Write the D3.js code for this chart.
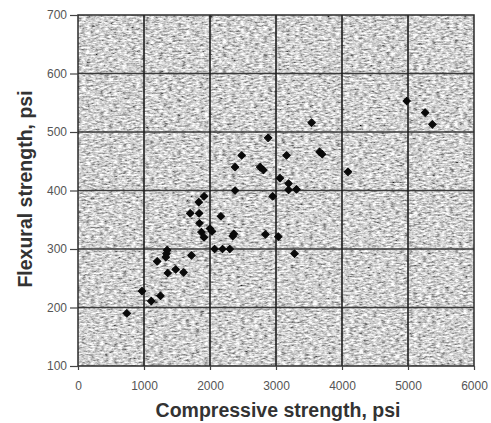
<!DOCTYPE html>
<html lang="en">
<head>
<meta charset="utf-8">
<title>Flexural vs compressive strength</title>
<script src="https://cdn.jsdelivr.net/npm/d3@7"></script>
<style>
  body { margin: 0; background: #fff; }
  svg { display: block; }
  .tick text { font-family: "Liberation Sans Narrow", "Liberation Sans", Arial, sans-serif; font-size: 12px; fill: #555; }
  .title { font-family: "Liberation Sans", Arial, sans-serif; font-weight: bold; font-size: 19.5px; fill: #333; }
</style>
</head>
<body>
<script>

// compressive strength (psi) of each specimen
var compressive = [740, 970, 1110, 1250, 1200, 1330, 1340, 1350, 1360, 1480,
                   1600, 1720, 1700, 1830, 1910, 1835, 1840, 1870, 1910, 2000,
                   2030, 2165, 2070, 2190, 2300, 2345, 2360, 2380, 2380, 2480,
                   2760, 2810, 2880, 2950, 2840, 3035, 3060, 3160, 3190, 3190,
                   3310, 3280, 3660, 3700, 3540, 4090, 4980, 5260, 5370];

// flexural strength (psi), same order
var flexural = [190, 228, 211, 220, 279, 286, 292, 298, 259, 265,
                260, 289, 361, 380, 390, 361, 344, 329, 320, 335,
                330, 356, 300, 300, 300, 322, 326, 400, 440, 460,
                440, 435, 490, 390, 325, 321, 421, 460, 412, 401,
                402, 292, 466, 462, 516, 432, 553, 533, 513];

var xTicks = [0, 1000, 2000, 3000, 4000, 5000, 6000];
var yTicks = [100, 200, 300, 400, 500, 600, 700];

var w = 491, h = 423;
var margin = {top: 15, right: 17, bottom: 57, left: 78};

var svg = d3.select("body").append("svg")
  .attr("width", w)
  .attr("height", h);

var x = d3.scaleLinear().domain([0, 6000]).range([margin.left, w - margin.right]);
var y = d3.scaleLinear().domain([100, 700]).range([h - margin.bottom, margin.top]);

// speckled grey paper behind the plot (short horizontal flecks)
var defs = svg.append("defs");
var grain = defs.append("filter").attr("id", "grain")
  .attr("x", 0).attr("y", 0).attr("width", "100%").attr("height", "100%");
grain.append("feTurbulence")
  .attr("type", "fractalNoise")
  .attr("baseFrequency", "0.22 0.55")
  .attr("numOctaves", 3)
  .attr("seed", 4);
grain.append("feColorMatrix")
  .attr("type", "matrix")
  .attr("values", "1 0 0 0 0  1 0 0 0 0  1 0 0 0 0  0 0 0 0 1");
var ct = grain.append("feComponentTransfer");
["feFuncR", "feFuncG", "feFuncB"].forEach(function(f) {
  ct.append(f).attr("type", "linear").attr("slope", 1.55).attr("intercept", -0.14);
});

svg.append("rect")
  .attr("x", x(0)).attr("y", y(700))
  .attr("width", x(6000) - x(0))
  .attr("height", y(100) - y(700))
  .attr("fill", "#aaa")
  .attr("filter", "url(#grain)");

// grid
svg.append("g").selectAll("line")
  .data(yTicks.slice(1, -1))
  .enter().append("line")
  .attr("x1", x(0)).attr("x2", x(6000))
  .attr("y1", function(d) { return y(d); })
  .attr("y2", function(d) { return y(d); })
  .attr("stroke", "#3a3a3a")
  .attr("stroke-width", 1.4);

svg.append("g").selectAll("line")
  .data(xTicks.slice(1, -1))
  .enter().append("line")
  .attr("x1", function(d) { return x(d); })
  .attr("x2", function(d) { return x(d); })
  .attr("y1", y(700)).attr("y2", y(100))
  .attr("stroke", "#1e1e1e")
  .attr("stroke-width", 1.6);

// frame
svg.append("rect")
  .attr("x", x(0)).attr("y", y(700))
  .attr("width", x(6000) - x(0))
  .attr("height", y(100) - y(700))
  .attr("fill", "none")
  .attr("stroke", "#2a2a2a")
  .attr("stroke-width", 1.5);

// axes
var xAxis = svg.append("g")
  .attr("transform", "translate(0," + y(100) + ")")
  .call(d3.axisBottom(x).tickValues(xTicks).tickSize(4).tickPadding(11).tickFormat(d3.format("d")));
var yAxis = svg.append("g")
  .attr("transform", "translate(" + x(0) + ",0)")
  .call(d3.axisLeft(y).tickValues(yTicks).tickSize(8).tickPadding(3).tickFormat(d3.format("d")));

[xAxis, yAxis].forEach(function(a) {
  a.select(".domain").remove();
  a.selectAll(".tick line").attr("stroke", "#444").attr("stroke-width", 1.2);
});

// data points: small square diamonds
svg.append("g").selectAll("path")
  .data(d3.range(compressive.length))
  .enter().append("path")
  .attr("d", d3.symbol().type(d3.symbolSquare).size(28))
  .attr("transform", function(i) {
    return "translate(" + x(compressive[i]) + "," + y(flexural[i]) + ") rotate(45)";
  })
  .attr("fill", "#0a0a0a")
  .attr("stroke", "#0a0a0a")
  .attr("stroke-width", 1)
  .attr("stroke-linejoin", "round");

// axis titles
svg.append("text")
  .attr("class", "title")
  .attr("x", 278).attr("y", 417)
  .attr("text-anchor", "middle")
  .text("Compressive strength, psi");

svg.append("text")
  .attr("class", "title")
  .attr("transform", "translate(32,189) rotate(-90)")
  .attr("text-anchor", "middle")
  .text("Flexural strength, psi");

</script>
</body>
</html>
